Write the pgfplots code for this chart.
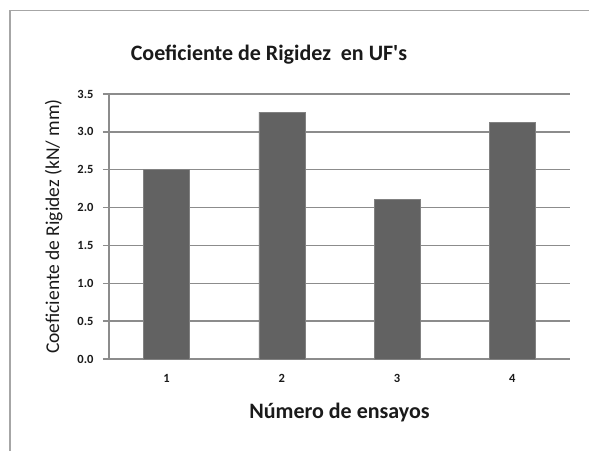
\documentclass[border=0pt]{standalone}
\usepackage{pgfplots}
\pgfplotsset{compat=1.18}
\usepackage{fontspec}
\setmainfont{Carlito}[Ligatures=TeXOff]
\definecolor{barc}{HTML}{626262}
\definecolor{gridc}{HTML}{8C8C8C}
\definecolor{framec}{HTML}{A6A6A6}
\definecolor{txt}{HTML}{1A1A1A}
\begin{document}
\begin{tikzpicture}[x=1pt,y=1pt]
\path[use as bounding box] (0,0) rectangle (589,451);
\draw[framec, line width=1.3pt] (10,0) -- (10,440.5) -- (589,440.5);
\node[font=\bfseries\fontsize{22}{24}\selectfont, text=txt] at (269,396) {Coeficiente de Rigidez\ \ en UF's};
\begin{axis}[
  at={(109pt,92pt)}, anchor=south west,
  scale only axis, width=461pt, height=265pt,
  xmin=0.5, xmax=4.5, ymin=0, ymax=3.5,
  ybar, bar width=0.4, bar shift=0pt,
  xtick={1,2,3,4},
  ytick={0,0.5,1,1.5,2,2.5,3,3.5},
  yticklabel style={/pgf/number format/fixed, /pgf/number format/fixed zerofill, /pgf/number format/precision=1, xshift=-6pt},
  /pgf/number format/assume math mode=true,
  ymajorgrids, grid style={gridc, line width=1.5pt},
  axis lines*=left,
  axis line style={gridc, line width=1.5pt},
  tick align=outside, major tick length=6pt,
  ytick style={gridc, line width=1.5pt},
  xtick style={draw=none},
  tick label style={font=\bfseries\fontsize{12.5}{14}\selectfont, text=txt},
  xticklabel style={yshift=-6pt},
  xlabel={Número de ensayos},
  ylabel={Coeficiente de Rigidez (kN/ mm)},
  xlabel style={font=\bfseries\fontsize{22}{24}\selectfont, text=txt, at={(axis description cs:0.5,0)}, anchor=center, yshift=-54pt},
  ylabel style={font=\fontsize{19.5}{22}\selectfont, text=txt, at={(axis description cs:-0.12,0.5)}, anchor=center},
]
\addplot[fill=barc, draw=barc!80!white, line width=0.6pt] coordinates {(1,2.5) (2,3.26) (3,2.11) (4,3.12)};
\end{axis}
\end{tikzpicture}
\end{document}
